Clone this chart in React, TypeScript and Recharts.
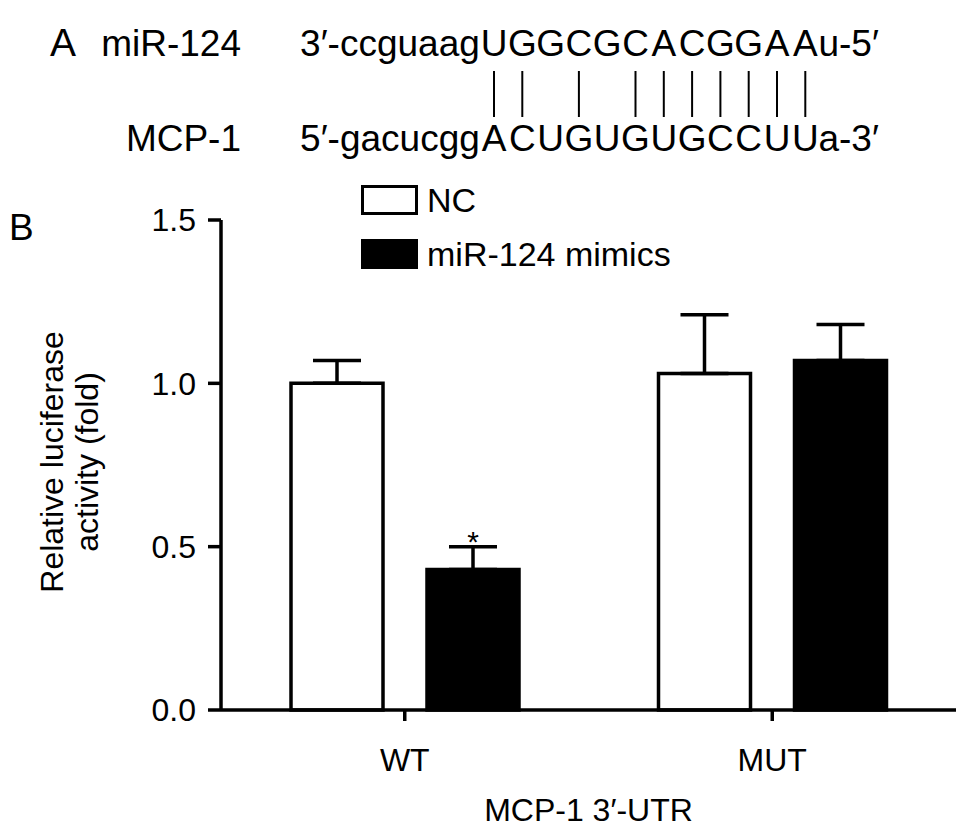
import React from 'react'
import { BarChart, Bar, XAxis, YAxis, ErrorBar, LabelList, Legend } from 'recharts'

// panel B values
const GROUPS = ['WT', 'MUT']
const NC_VALUES = [1.0, 1.03]
const NC_SEM = [0.07, 0.18]
const MIMIC_VALUES = [0.43, 1.07]
const MIMIC_SEM = [0.07, 0.11]
const MIMIC_SIG = ['*', '']
const Y_TICKS = [0, 0.5, 1.0, 1.5]

// panel A alignment
const MIR_PREFIX = '3′-ccguaag'
const MIR_CORE = ['U', 'G', 'G', 'C', 'G', 'C', 'A', 'C', 'G', 'G', 'A', 'A']
const MIR_SUFFIX = 'u-5′'
const MCP_PREFIX = '5′-gacucgg'
const MCP_CORE = ['A', 'C', 'U', 'G', 'U', 'G', 'U', 'G', 'C', 'C', 'U', 'U']
const MCP_SUFFIX = 'a-3′'
const PAIRED = [0, 1, 3, 5, 6, 7, 8, 9, 10, 11]

const FONT = '"Liberation Sans", Arial, Helvetica, sans-serif'

const data = GROUPS.map((g, i) => ({
    group: g,
    nc: NC_VALUES[i],
    ncErr: [0, NC_SEM[i]],
    mimic: MIMIC_VALUES[i],
    mimicErr: [0, MIMIC_SEM[i]],
    sig: MIMIC_SIG[i],
}))

const CORE_X0 = 494
const PITCH = 28.3

function Sequence({ prefix, core, suffix, y }: { prefix: string; core: string[]; suffix: string; y: number }) {
    const left = CORE_X0 - PITCH / 2
    const right = CORE_X0 + (core.length - 1) * PITCH + PITCH / 2
    return (
        <g>
            <text x={left} y={y} textAnchor="end">{prefix}</text>
            {core.map((c, i) => (
                <text key={i} x={CORE_X0 + i * PITCH} y={y} textAnchor="middle">{c}</text>
            ))}
            <text x={right - 1} y={y}>{suffix}</text>
        </g>
    )
}

function renderStar(props: any) {
    const { x, y, width, height, value, index } = props
    if (!value) return null
    // error bar top, from the bar's own pixel height
    const errPx = (height * MIMIC_SEM[index]) / MIMIC_VALUES[index]
    return (
        <text x={x + width / 2} y={y - errPx + 5} textAnchor="middle" fontSize={30} fontFamily={FONT} fill="#000">
            {value}
        </text>
    )
}

function renderLegend(props: any) {
    const { payload } = props
    return (
        <div style={{ fontFamily: FONT }}>
            {payload.map((p: any, i: number) => (
                <div key={i} style={{ display: 'flex', alignItems: 'center', height: 30, marginBottom: 24 }}>
                    <div
                        style={{
                            width: 57,
                            height: 30,
                            boxSizing: 'border-box',
                            border: '3.5px solid #000',
                            background: p.dataKey === 'nc' ? '#fff' : '#000',
                        }}
                    />
                    <span style={{ marginLeft: 9, fontSize: 34, lineHeight: '30px', color: '#000' }}>{p.value}</span>
                </div>
            ))}
        </div>
    )
}

export default function App() {
    return (
        <div style={{ position: 'relative', width: 969, height: 834, background: '#fff', fontFamily: FONT }}>
            <style>{'body{margin:0}'}</style>
            <BarChart
                width={969}
                height={834}
                data={data}
                margin={{ top: 220, right: 13, bottom: 0, left: 0 }}
                barSize={92}
                barGap={44}
            >
                <XAxis
                    dataKey="group"
                    height={124}
                    tickSize={11}
                    tickMargin={27}
                    axisLine={{ stroke: '#000', strokeWidth: 3.5 }}
                    tickLine={{ stroke: '#000', strokeWidth: 3.5 }}
                    tick={{ fill: '#000', fontSize: 32, fontFamily: FONT }}
                    label={{ value: 'MCP-1 3′-UTR', position: 'insideBottom', offset: 13, fill: '#000', fontSize: 32, fontFamily: FONT }}
                />
                <YAxis
                    width={221}
                    domain={[0, 1.5]}
                    ticks={Y_TICKS}
                    interval={0}
                    tickFormatter={(v: number) => v.toFixed(1)}
                    tickSize={13}
                    tickMargin={12}
                    axisLine={{ stroke: '#000', strokeWidth: 3.5 }}
                    tickLine={{ stroke: '#000', strokeWidth: 3.5 }}
                    tick={{ fill: '#000', fontSize: 32, fontFamily: FONT }}
                />
                <Legend
                    layout="vertical"
                    align="center"
                    verticalAlign="middle"
                    content={renderLegend}
                    wrapperStyle={{ left: 361, top: 185, width: 400 }}
                />
                <Bar dataKey="nc" name="NC" fill="#fff" stroke="#000" strokeWidth={3.5} isAnimationActive={false}>
                    <ErrorBar dataKey="ncErr" direction="y" width={24} stroke="#000" strokeWidth={3.5} />
                </Bar>
                <Bar dataKey="mimic" name="miR-124 mimics" fill="#000" stroke="#000" strokeWidth={3.5} isAnimationActive={false}>
                    <ErrorBar dataKey="mimicErr" direction="y" width={24} stroke="#000" strokeWidth={3.5} />
                    <LabelList dataKey="sig" content={renderStar} />
                </Bar>
            </BarChart>

            <svg
                width={969}
                height={834}
                style={{ position: 'absolute', left: 0, top: 0, pointerEvents: 'none' }}
                fontFamily={FONT}
                fill="#000"
            >
                {/* panel A */}
                <text x={50} y={56} fontSize={39}>A</text>
                <g fontSize={37}>
                    <text x={241} y={56} textAnchor="end">miR-124</text>
                    <text x={241} y={151} textAnchor="end">MCP-1</text>
                    <Sequence prefix={MIR_PREFIX} core={MIR_CORE} suffix={MIR_SUFFIX} y={56} />
                    <Sequence prefix={MCP_PREFIX} core={MCP_CORE} suffix={MCP_SUFFIX} y={151} />
                    {PAIRED.map((i) => (
                        <line key={i} x1={CORE_X0 + i * PITCH} x2={CORE_X0 + i * PITCH} y1={71} y2={117} stroke="#000" strokeWidth={2} />
                    ))}
                </g>
                {/* panel B letter and y label */}
                <text x={9} y={240} fontSize={37}>B</text>
                <g fontSize={32}>
                    <text x={52} y={462} textAnchor="middle" dominantBaseline="central" transform="rotate(-90 52 462)">
                        Relative luciferase
                    </text>
                    <text x={87} y={462} textAnchor="middle" dominantBaseline="central" transform="rotate(-90 87 462)">
                        activity (fold)
                    </text>
                </g>
            </svg>
        </div>
    )
}
